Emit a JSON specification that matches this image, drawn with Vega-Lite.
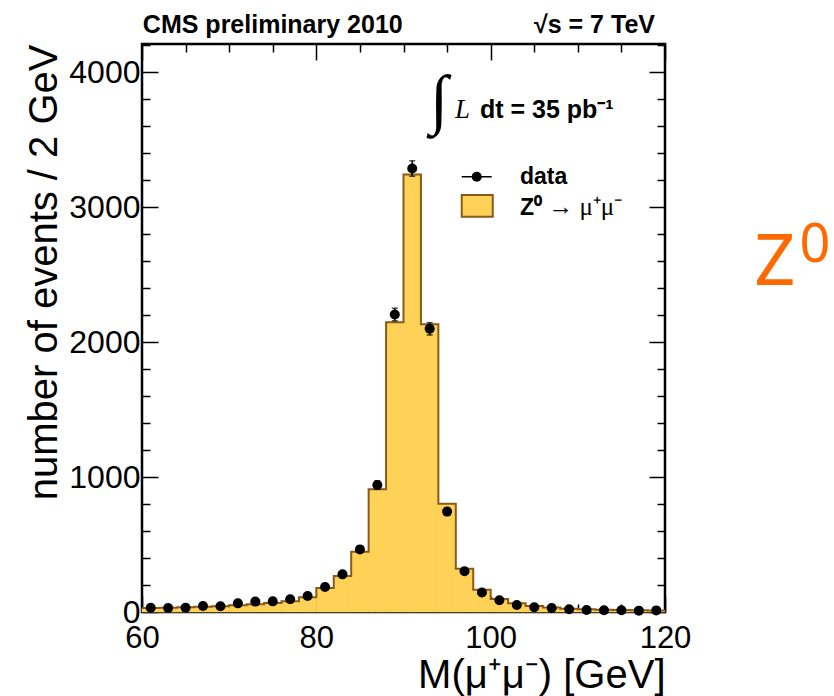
{
  "$schema": "https://vega.github.io/schema/vega-lite/v6.json",
  "autosize": {"type": "none"},
  "width": 523,
  "height": 568,
  "padding": {"left": 142, "top": 44, "right": 169, "bottom": 84},
  "background": "white",
  "config": {
    "view": {"stroke": "black", "strokeWidth": 2.5},
    "font": "Liberation Sans"
  },
  "datasets": {
    "hist": [
      {"lo": 60, "hi": 62, "center": 61, "mc": 30, "data": 32, "err": 5.7},
      {"lo": 62, "hi": 64, "center": 63, "mc": 32, "data": 30, "err": 5.5},
      {"lo": 64, "hi": 66, "center": 65, "mc": 35, "data": 32, "err": 5.7},
      {"lo": 66, "hi": 68, "center": 67, "mc": 38, "data": 44, "err": 6.6},
      {"lo": 68, "hi": 70, "center": 69, "mc": 42, "data": 42, "err": 6.5},
      {"lo": 70, "hi": 72, "center": 71, "mc": 50, "data": 64, "err": 8.0},
      {"lo": 72, "hi": 74, "center": 73, "mc": 58, "data": 77, "err": 8.8},
      {"lo": 74, "hi": 76, "center": 75, "mc": 66, "data": 79, "err": 8.9},
      {"lo": 76, "hi": 78, "center": 77, "mc": 80, "data": 94, "err": 9.7},
      {"lo": 78, "hi": 80, "center": 79, "mc": 110, "data": 118, "err": 10.9},
      {"lo": 80, "hi": 82, "center": 81, "mc": 178, "data": 185, "err": 13.6},
      {"lo": 82, "hi": 84, "center": 83, "mc": 267, "data": 279, "err": 16.7},
      {"lo": 84, "hi": 86, "center": 85, "mc": 446, "data": 464, "err": 21.5},
      {"lo": 86, "hi": 88, "center": 87, "mc": 909, "data": 941, "err": 30.7},
      {"lo": 88, "hi": 90, "center": 89, "mc": 2148, "data": 2205, "err": 47.0},
      {"lo": 90, "hi": 92, "center": 91, "mc": 3242, "data": 3287, "err": 57.3},
      {"lo": 92, "hi": 94, "center": 93, "mc": 2133, "data": 2099, "err": 45.8},
      {"lo": 94, "hi": 96, "center": 95, "mc": 803, "data": 744, "err": 27.3},
      {"lo": 96, "hi": 98, "center": 97, "mc": 320, "data": 302, "err": 17.4},
      {"lo": 98, "hi": 100, "center": 99, "mc": 165, "data": 144, "err": 12.0},
      {"lo": 100, "hi": 102, "center": 101, "mc": 96, "data": 87, "err": 9.3},
      {"lo": 102, "hi": 104, "center": 103, "mc": 64, "data": 52, "err": 7.2},
      {"lo": 104, "hi": 106, "center": 105, "mc": 44, "data": 35, "err": 5.9},
      {"lo": 106, "hi": 108, "center": 107, "mc": 33, "data": 30, "err": 5.5},
      {"lo": 108, "hi": 110, "center": 109, "mc": 25, "data": 20, "err": 4.5},
      {"lo": 110, "hi": 112, "center": 111, "mc": 20, "data": 15, "err": 3.9},
      {"lo": 112, "hi": 114, "center": 113, "mc": 17, "data": 13, "err": 3.6},
      {"lo": 114, "hi": 116, "center": 115, "mc": 15, "data": 13, "err": 3.6},
      {"lo": 116, "hi": 118, "center": 117, "mc": 13, "data": 10, "err": 3.2},
      {"lo": 118, "hi": 120, "center": 119, "mc": 11, "data": 12, "err": 3.5}
    ]
  },
  "data": {"name": "hist"},
  "resolve": {"axis": {"x": "independent", "y": "independent"}},
  "layer": [
    {
      "mark": {"type": "rect", "fill": "#fdd257", "stroke": "#fdd257", "strokeWidth": 0.6},
      "encoding": {
        "x": {
          "field": "lo", "type": "quantitative",
          "scale": {"domain": [60, 120], "nice": false, "zero": false},
          "axis": {
            "orient": "bottom",
            "values": [60, 65, 70, 75, 80, 85, 90, 95, 100, 105, 110, 115, 120],
            "labelExpr": "datum.value % 20 === 0 ? datum.label : ''",
            "tickSize": {"condition": {"test": "datum.value % 20 === 0", "value": -16}, "value": -8},
            "tickColor": "black", "tickWidth": 1.5,
            "domain": false, "grid": false,
            "labelFont": "Liberation Sans", "labelFontSize": 31, "labelColor": "black",
            "labelPadding": 27, "labelFlush": false, "labelOverlap": false,
            "title": "M(μ⁺μ⁻) [GeV]",
            "titleFont": "Liberation Sans", "titleFontSize": 40, "titleFontWeight": "normal",
            "titleColor": "black", "titleAnchor": "end", "titleBaseline": "alphabetic",
            "titlePadding": 26
          }
        },
        "x2": {"field": "hi"},
        "y": {
          "field": "mc", "type": "quantitative",
          "scale": {"domain": [0, 4210], "nice": false},
          "axis": {
            "orient": "left",
            "values": [0, 200, 400, 600, 800, 1000, 1200, 1400, 1600, 1800, 2000, 2200, 2400, 2600, 2800, 3000, 3200, 3400, 3600, 3800, 4000, 4200],
            "labelExpr": "datum.value % 1000 === 0 ? datum.label : ''",
            "format": "d",
            "tickSize": {"condition": {"test": "datum.value % 1000 === 0", "value": -16}, "value": -8},
            "tickColor": "black", "tickWidth": 1.5,
            "domain": false, "grid": false,
            "labelFont": "Liberation Sans", "labelFontSize": 32, "labelColor": "black",
            "labelPadding": 18, "labelFlush": false, "labelOverlap": false,
            "title": "number of events / 2 GeV",
            "titleFont": "Liberation Sans", "titleFontSize": 40, "titleFontWeight": "normal",
            "titleColor": "black", "titleAnchor": "end", "titleBaseline": "alphabetic",
            "titlePadding": 12
          }
        },
        "y2": {"datum": 0}
      }
    },
    {
      "transform": [{"fold": ["lo", "hi"], "as": ["key", "edge"]}],
      "mark": {"type": "line", "stroke": "#8b5a19", "strokeWidth": 2, "interpolate": "linear"},
      "encoding": {
        "x": {"field": "edge", "type": "quantitative", "axis": null},
        "y": {"field": "mc", "type": "quantitative", "axis": null},
        "order": [{"field": "edge", "type": "quantitative"}, {"field": "key", "type": "nominal"}]
      }
    },
    {
      "mark": {"type": "errorbar", "color": "black", "thickness": 1.5, "ticks": {"size": 6, "color": "black", "thickness": 1.5}},
      "encoding": {
        "x": {"field": "center", "type": "quantitative", "axis": null},
        "y": {"field": "data", "type": "quantitative", "axis": null},
        "yError": {"field": "err"}
      }
    },
    {
      "mark": {"type": "point", "filled": true, "color": "black", "size": 100, "opacity": 1},
      "encoding": {
        "x": {
          "field": "center", "type": "quantitative",
          "axis": {
            "orient": "top", "labels": false, "title": null, "domain": false, "grid": false,
            "values": [60, 65, 70, 75, 80, 85, 90, 95, 100, 105, 110, 115, 120],
            "tickSize": {"condition": {"test": "datum.value % 20 === 0", "value": -16}, "value": -8},
            "tickColor": "black", "tickWidth": 1.5
          }
        },
        "y": {
          "field": "data", "type": "quantitative",
          "axis": {
            "orient": "right", "labels": false, "title": null, "domain": false, "grid": false,
            "values": [0, 200, 400, 600, 800, 1000, 1200, 1400, 1600, 1800, 2000, 2200, 2400, 2600, 2800, 3000, 3200, 3400, 3600, 3800, 4000, 4200],
            "tickSize": {"condition": {"test": "datum.value % 1000 === 0", "value": -16}, "value": -8},
            "tickColor": "black", "tickWidth": 1.5
          }
        }
      }
    },
    {
      "data": {"values": [{}]},
      "mark": {"type": "text", "text": "CMS preliminary 2010", "font": "Liberation Sans", "fontWeight": "bold", "fontSize": 25, "align": "left", "baseline": "alphabetic", "color": "black"},
      "encoding": {"x": {"datum": 60.1, "type": "quantitative", "axis": null}, "y": {"datum": 4291, "type": "quantitative", "axis": null}}
    },
    {
      "data": {"values": [{}]},
      "mark": {"type": "text", "text": "√s = 7 TeV", "font": "Liberation Sans", "fontWeight": "bold", "fontSize": 25, "align": "right", "baseline": "alphabetic", "color": "black"},
      "encoding": {"x": {"datum": 118.85, "type": "quantitative", "axis": null}, "y": {"datum": 4291, "type": "quantitative", "axis": null}}
    },
    {
      "data": {"values": [{}]},
      "mark": {"type": "text", "text": "∫", "font": "Liberation Serif", "fontSize": 66, "align": "center", "baseline": "middle", "color": "black"},
      "encoding": {"x": {"datum": 94.1, "type": "quantitative", "axis": null}, "y": {"datum": 3790, "type": "quantitative", "axis": null}}
    },
    {
      "data": {"values": [{}]},
      "mark": {"type": "text", "text": "L", "font": "Liberation Serif", "fontStyle": "italic", "fontSize": 27, "align": "left", "baseline": "alphabetic", "color": "black"},
      "encoding": {"x": {"datum": 95.91, "type": "quantitative", "axis": null}, "y": {"datum": 3661, "type": "quantitative", "axis": null}}
    },
    {
      "data": {"values": [{}]},
      "mark": {"type": "text", "text": "dt = 35 pb⁻¹", "font": "Liberation Sans", "fontWeight": "bold", "fontSize": 25, "align": "left", "baseline": "alphabetic", "color": "black"},
      "encoding": {"x": {"datum": 98.77, "type": "quantitative", "axis": null}, "y": {"datum": 3661, "type": "quantitative", "axis": null}}
    },
    {
      "data": {"values": [{}]},
      "mark": {"type": "rule", "color": "black", "strokeWidth": 1.5},
      "encoding": {"x": {"datum": 96.68, "type": "quantitative", "axis": null}, "x2": {"datum": 100.12}, "y": {"datum": 3226, "type": "quantitative", "axis": null}}
    },
    {
      "data": {"values": [{}]},
      "mark": {"type": "point", "filled": true, "color": "black", "size": 100, "opacity": 1},
      "encoding": {"x": {"datum": 98.4, "type": "quantitative", "axis": null}, "y": {"datum": 3226, "type": "quantitative", "axis": null}}
    },
    {
      "data": {"values": [{}]},
      "mark": {"type": "text", "text": "data", "font": "Liberation Sans", "fontWeight": "bold", "fontSize": 23, "align": "left", "baseline": "alphabetic", "color": "black"},
      "encoding": {"x": {"datum": 103.36, "type": "quantitative", "axis": null}, "y": {"datum": 3172, "type": "quantitative", "axis": null}}
    },
    {
      "data": {"values": [{}]},
      "mark": {"type": "rect", "fill": "#fdd257", "stroke": "#8b5a19", "strokeWidth": 2},
      "encoding": {"x": {"datum": 96.68, "type": "quantitative", "axis": null}, "x2": {"datum": 100.24}, "y": {"datum": 3091, "type": "quantitative", "axis": null}, "y2": {"datum": 2930}}
    },
    {
      "data": {"values": [{}]},
      "mark": {"type": "text", "text": "Z⁰", "font": "Liberation Sans", "fontWeight": "bold", "fontSize": 23, "align": "left", "baseline": "alphabetic", "color": "black"},
      "encoding": {"x": {"datum": 103.36, "type": "quantitative", "axis": null}, "y": {"datum": 2942, "type": "quantitative", "axis": null}}
    },
    {
      "data": {"values": [{}]},
      "mark": {"type": "text", "text": "→ μ⁺μ⁻", "font": "Liberation Serif", "fontSize": 25, "align": "left", "baseline": "alphabetic", "color": "black"},
      "encoding": {"x": {"datum": 106.6, "type": "quantitative", "axis": null}, "y": {"datum": 2942, "type": "quantitative", "axis": null}}
    },
    {
      "data": {"values": [{}]},
      "mark": {"type": "text", "text": "Z", "font": "Noto Sans", "fontSize": 72, "align": "center", "baseline": "alphabetic", "color": "#ff6a00"},
      "encoding": {"x": {"datum": 132.6, "type": "quantitative", "axis": null}, "y": {"datum": 2424, "type": "quantitative", "axis": null}}
    },
    {
      "data": {"values": [{}]},
      "mark": {"type": "text", "text": "0", "font": "Noto Sans", "fontSize": 54, "align": "center", "baseline": "alphabetic", "color": "#ff6a00"},
      "encoding": {"x": {"datum": 137.2, "type": "quantitative", "axis": null}, "y": {"datum": 2594, "type": "quantitative", "axis": null}}
    }
  ]
}
